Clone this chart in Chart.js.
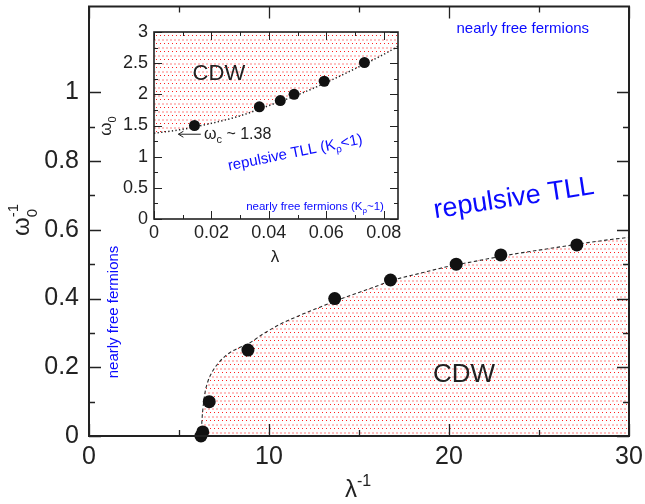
<!DOCTYPE html>
<html>
<head>
<meta charset="utf-8">
<script src="https://cdn.jsdelivr.net/npm/chart.js@4.4.1/dist/chart.umd.min.js"></script>
<style>
  body { margin: 0; background: #fff; }
  #wrap { position: relative; width: 645px; height: 504px; }
  #main { position: absolute; left: 0; top: 0; }
  #inset { position: absolute; left: 90px; top: 15px; }
</style>
</head>
<body>
<div id="wrap">
  <canvas id="main" width="645" height="504"></canvas>
  <canvas id="inset" width="320" height="255"></canvas>
</div>
<script>
// main panel: 1/omega0 against 1/lambda
const mainLambdaInv = [6.22, 6.32, 6.68, 8.83, 13.65, 16.75, 20.4, 22.88, 27.1];
const mainOmegaInv = [0.0, 0.012, 0.1, 0.25, 0.4, 0.454, 0.5, 0.527, 0.556];

// dashed CDW boundary
const boundaryX = [6.22, 6.24, 6.28, 6.35, 6.44, 6.6, 6.85, 7.2, 7.7, 8.3, 8.83, 9.7, 10.61, 11.7, 12.83, 14, 15.5, 17, 18.5, 20, 21.5, 23, 24.5, 26, 27.5, 29, 30];
const boundaryY = [0, 0.012, 0.05, 0.09, 0.125, 0.158, 0.187, 0.213, 0.238, 0.256, 0.268, 0.298, 0.325, 0.351, 0.375, 0.399, 0.427, 0.455, 0.475, 0.494, 0.509, 0.524, 0.537, 0.549, 0.561, 0.572, 0.578];

// inset: omega0 against lambda
const insetLambda = [0.0141, 0.0367, 0.044, 0.0488, 0.0593, 0.0733];
const insetOmega = [1.5, 1.8, 1.9, 2.0, 2.21, 2.51];
const insetLineX = [0, 0.01, 0.02, 0.03, 0.04, 0.05, 0.06, 0.07, 0.08, 0.085];
const insetLineY = [1.375, 1.44, 1.535, 1.655, 1.82, 1.99, 2.19, 2.41, 2.64, 2.77];

// labelled ticks
const mainXLabels = [0, 10, 20, 30];
const mainYLabels = [0, 0.2, 0.4, 0.6, 0.8, 1];
const insetXLabels = [0, 0.02, 0.04, 0.06, 0.08];
const insetYLabels = [0, 0.5, 1, 1.5, 2, 2.5, 3];

const FONT = "'Liberation Sans', Arial, sans-serif";
const INK = '#222';
const BLUE = '#0a0aff';

const toPts = (xs, ys) => xs.map((x, i) => ({ x: x, y: ys[i] }));
const pick = (v, list) => {
  const hit = list.find(l => Math.abs(l - v) < 1e-9);
  return hit === undefined ? '' : String(hit);
};

// red/pink dot screen used for the CDW region
const dotPattern = function () {
  const c = document.createElement('canvas');
  c.width = 4; c.height = 8;
  const g = c.getContext('2d');
  g.fillStyle = '#ffc0c0';
  g.fillRect(0, 0, 2, 2);
  g.fillStyle = '#ff2020';
  g.fillRect(2, 4, 1, 1);
  return g.createPattern(c, 'repeat');
};

// text made of pieces: [text, size, dy, advance]
const richWidth = function (ctx, parts) {
  let w = 0;
  parts.forEach(p => {
    ctx.font = p[1] + 'px ' + FONT;
    if (p[3] !== false) w += ctx.measureText(p[0]).width;
  });
  return w;
};
const rich = function (ctx, x, y, parts, color, center) {
  ctx.fillStyle = color;
  ctx.textAlign = 'left';
  ctx.textBaseline = 'alphabetic';
  let cx = center ? x - richWidth(ctx, parts) / 2 : x;
  parts.forEach(p => {
    ctx.font = p[1] + 'px ' + FONT;
    ctx.fillText(p[0], cx, y + (p[2] || 0));
    if (p[3] !== false) cx += ctx.measureText(p[0]).width;
  });
};
const richAt = function (ctx, x, y, angle, parts, color) {
  ctx.save();
  ctx.translate(x, y);
  ctx.rotate(angle);
  rich(ctx, 0, 0, parts, color, true);
  ctx.restore();
};

// box round the plot with inward ticks on all four sides
const drawFrame = function (chart, o) {
  const { ctx, chartArea: a } = chart;
  const sx = chart.scales.x, sy = chart.scales.y;
  ctx.save();
  ctx.strokeStyle = INK;
  ctx.lineWidth = o.tw;
  ctx.beginPath();
  sx.ticks.forEach(t => {
    if (t.value > o.xLast + 1e-9) return;
    const len = t.label !== '' ? o.major : o.minor;
    const px = Math.round(sx.getPixelForValue(t.value)) + 0.5;
    ctx.moveTo(px, a.bottom); ctx.lineTo(px, a.bottom - len);
    ctx.moveTo(px, a.top); ctx.lineTo(px, a.top + len);
  });
  sy.ticks.forEach(t => {
    if (t.value > o.yLast + 1e-9) return;
    const len = t.label !== '' ? o.major : o.minor;
    const py = Math.round(sy.getPixelForValue(t.value)) + 0.5;
    ctx.moveTo(a.left, py); ctx.lineTo(a.left + len, py);
    ctx.moveTo(a.right, py); ctx.lineTo(a.right - len, py);
  });
  ctx.stroke();
  ctx.lineWidth = o.lw;
  ctx.strokeRect(a.left, a.top, a.right - a.left, a.bottom - a.top);
  ctx.restore();
};

const mainDecor = {
  id: 'mainDecor',
  afterDatasetsDraw(chart) {
    const ctx = chart.ctx;
    const sx = chart.scales.x, sy = chart.scales.y;
    drawFrame(chart, { lw: 2, tw: 1.3, major: 12, minor: 6, xLast: 30, yLast: 1.0 });
    const X = v => sx.getPixelForValue(v), Y = v => sy.getPixelForValue(v);

    richAt(ctx, X(24.1), Y(1.186) + 5, 0, [['nearly free fermions', 15]], BLUE);
    richAt(ctx, X(23.67), Y(0.684) + 5, -0.152, [['repulsive TLL', 27]], BLUE);
    richAt(ctx, X(1.33) + 5, Y(0.361), -Math.PI / 2, [['nearly free fermions', 15]], BLUE);
    richAt(ctx, X(20.83), Y(0.182) + 9, 0, [['CDW', 26]], INK);

    // axis titles
    richAt(ctx, 29, 220, -Math.PI / 2, [['ω', 24], ['0', 15, 8, false], ['-1', 15, -11]], INK);
    rich(ctx, 345, 497, [['λ', 24], ['-1', 16, -11]], INK, false);
  }
};

const insetDecor = {
  id: 'insetDecor',
  beforeDatasetsDraw(chart) {
    const { ctx, chartArea: a } = chart;
    ctx.save();
    ctx.fillStyle = '#fff';
    ctx.fillRect(a.left, a.top, a.right - a.left, a.bottom - a.top);
    ctx.restore();
  },
  afterDatasetsDraw(chart) {
    const ctx = chart.ctx;
    const sx = chart.scales.x, sy = chart.scales.y;
    drawFrame(chart, { lw: 1.6, tw: 1, major: 8, minor: 4, xLast: 0.08, yLast: 3 });
    const X = v => sx.getPixelForValue(v), Y = v => sy.getPixelForValue(v);

    richAt(ctx, X(0.0226), Y(2.35) + 7, 0, [['CDW', 22]], INK);

    // arrow pointing at omega_c
    const ay = Y(1.36);
    ctx.save();
    ctx.strokeStyle = INK; ctx.fillStyle = INK; ctx.lineWidth = 1;
    ctx.beginPath();
    ctx.moveTo(X(0.0163), ay); ctx.lineTo(X(0.0085), ay);
    ctx.moveTo(X(0.0085) + 5, ay - 3); ctx.lineTo(X(0.0085), ay); ctx.lineTo(X(0.0085) + 5, ay + 3);
    ctx.stroke();
    ctx.restore();
    rich(ctx, X(0.0174), ay + 5, [['ω', 16], ['c', 11, 4], [' ~ 1.38', 16]], INK, false);

    richAt(ctx, X(0.0495), Y(1.075) + 5, -0.2, [['repulsive TLL (K', 15], ['ρ', 10, 4], ['<1)', 15]], BLUE);
    richAt(ctx, X(0.0561), Y(0.21) + 4, 0, [['nearly free fermions (K', 11.5], ['ρ', 8, 3], ['~1)', 11.5]], BLUE);

    // axis titles
    richAt(ctx, 21, 111, -Math.PI / 2, [['ω', 17], ['0', 11, 5]], INK);
    rich(ctx, 185, 247, [['λ', 17]], INK, true);
  }
};

const mainCtx = document.getElementById('main');
new Chart(mainCtx, {
  type: 'scatter',
  data: {
    datasets: [
      {
        data: toPts(mainLambdaInv, mainOmegaInv),
        pointRadius: 6.5,
        pointBackgroundColor: '#111',
        pointBorderWidth: 0,
        showLine: false,
        clip: false,
        order: 0,
      },
      {
        data: toPts(boundaryX, boundaryY),
        showLine: true,
        pointRadius: 0,
        borderColor: '#2a2a2a',
        borderWidth: 1.1,
        borderDash: [3.5, 2.5],
        cubicInterpolationMode: 'monotone',
        fill: 'origin',
        backgroundColor: dotPattern(),
        order: 1,
      },
    ],
  },
  options: {
    responsive: false,
    animation: false,
    events: [],
    layout: { padding: { top: 4, right: 16, left: 0, bottom: 0 } },
    plugins: { legend: { display: false }, tooltip: { enabled: false } },
    scales: {
      x: {
        type: 'linear', min: 0, max: 30,
        grid: { display: false, drawTicks: false },
        border: { display: false },
        ticks: {
          stepSize: 5, includeBounds: false, autoSkip: false, maxRotation: 0,
          padding: 6, color: INK, font: { size: 25, family: FONT },
          callback: v => pick(v, mainXLabels),
        },
        afterFit: s => { s.height = 68; s.paddingLeft = 0; s.paddingRight = 0; },
      },
      y: {
        type: 'linear', min: 0, max: 1.25,
        grid: { display: false, drawTicks: false },
        border: { display: false },
        ticks: {
          stepSize: 0.1, includeBounds: false, autoSkip: false,
          padding: 10, color: INK, font: { size: 25, family: FONT },
          callback: v => pick(v, mainYLabels),
        },
        afterFit: s => { s.width = 89; s.paddingTop = 0; s.paddingBottom = 0; },
      },
    },
  },
  plugins: [mainDecor],
});

const insetCtx = document.getElementById('inset');
new Chart(insetCtx, {
  type: 'scatter',
  data: {
    datasets: [
      {
        data: toPts(insetLambda, insetOmega),
        pointRadius: 5.5,
        pointBackgroundColor: '#111',
        pointBorderWidth: 0,
        showLine: false,
        clip: false,
        order: 0,
      },
      {
        data: toPts(insetLineX, insetLineY),
        showLine: true,
        pointRadius: 0,
        borderColor: '#222',
        borderWidth: 1.5,
        borderDash: [1.3, 2.3],
        cubicInterpolationMode: 'monotone',
        fill: 'end',
        backgroundColor: dotPattern(),
        order: 1,
      },
    ],
  },
  options: {
    responsive: false,
    animation: false,
    events: [],
    layout: { padding: { top: 17, right: 12, left: 0, bottom: 0 } },
    plugins: { legend: { display: false }, tooltip: { enabled: false } },
    scales: {
      x: {
        type: 'linear', min: 0, max: 0.085,
        grid: { display: false, drawTicks: false },
        border: { display: false },
        ticks: {
          stepSize: 0.01, includeBounds: false, autoSkip: false, maxRotation: 0,
          padding: 3, color: INK, font: { size: 18, family: FONT },
          callback: v => pick(v, insetXLabels),
        },
        afterFit: s => { s.height = 51; s.paddingLeft = 0; s.paddingRight = 0; },
      },
      y: {
        type: 'linear', min: 0, max: 3,
        grid: { display: false, drawTicks: false },
        border: { display: false },
        ticks: {
          stepSize: 0.25, includeBounds: false, autoSkip: false,
          padding: 6, color: INK, font: { size: 18, family: FONT },
          callback: v => pick(v, insetYLabels),
        },
        afterFit: s => { s.width = 64; s.paddingTop = 0; s.paddingBottom = 0; },
      },
    },
  },
  plugins: [insetDecor],
});
</script>
</body>
</html>
